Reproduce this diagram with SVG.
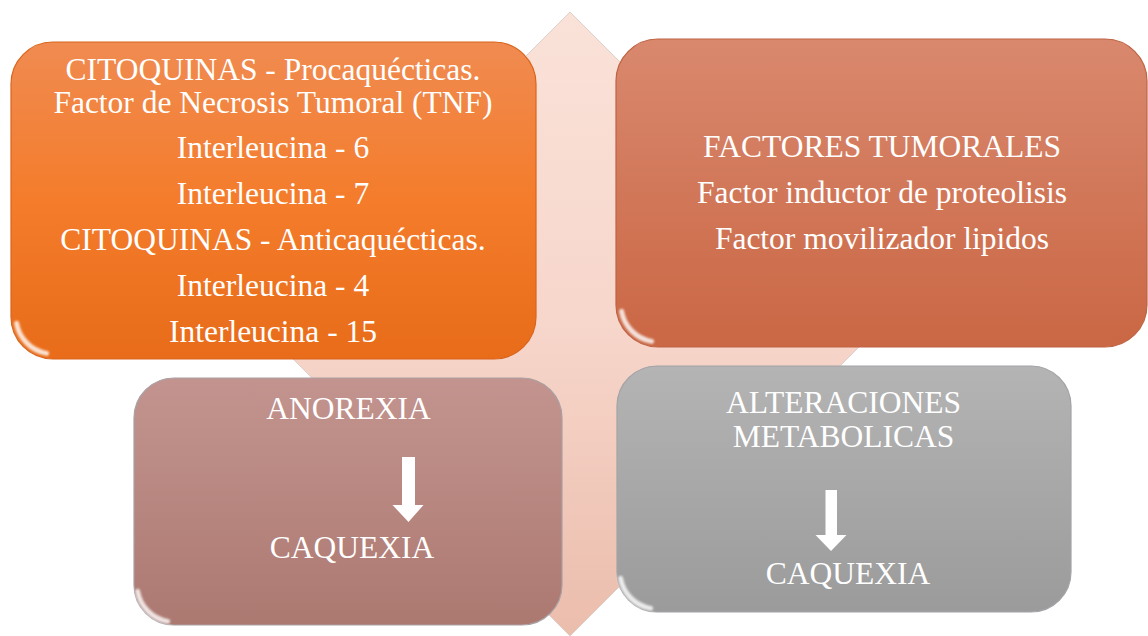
<svg xmlns="http://www.w3.org/2000/svg" width="1148" height="636" viewBox="0 0 1148 636">
  <defs>
    <linearGradient id="gDiamond" x1="0" y1="0" x2="0" y2="1">
      <stop offset="0" stop-color="#fae2d9"/>
      <stop offset="0.5" stop-color="#f7d6cb"/>
      <stop offset="1" stop-color="#ebbdac"/>
    </linearGradient>
    <linearGradient id="gOrange" x1="0" y1="0" x2="0" y2="1">
      <stop offset="0" stop-color="#f08b51"/>
      <stop offset="0.5" stop-color="#f47c2b"/>
      <stop offset="1" stop-color="#e86c19"/>
    </linearGradient>
    <linearGradient id="gRust" x1="0" y1="0" x2="0" y2="1">
      <stop offset="0" stop-color="#d9886e"/>
      <stop offset="1" stop-color="#ca6744"/>
    </linearGradient>
    <linearGradient id="gMauve" x1="0" y1="0" x2="0" y2="1">
      <stop offset="0" stop-color="#c3948f"/>
      <stop offset="1" stop-color="#ac7971"/>
    </linearGradient>
    <linearGradient id="gGray" x1="0" y1="0" x2="0" y2="1">
      <stop offset="0" stop-color="#b4b4b4"/>
      <stop offset="1" stop-color="#9b9b9b"/>
    </linearGradient>
    <linearGradient id="gShine" x1="0" y1="0" x2="1" y2="0">
      <stop offset="0" stop-color="#ffffff" stop-opacity="0"/>
      <stop offset="0.1" stop-color="#ffffff" stop-opacity="0.55"/>
      <stop offset="0.9" stop-color="#ffffff" stop-opacity="0.55"/>
      <stop offset="1" stop-color="#ffffff" stop-opacity="0"/>
    </linearGradient>
    <filter id="soft" x="-20%" y="-20%" width="140%" height="140%">
      <feGaussianBlur stdDeviation="1.3"/>
    </filter>
  </defs>
  <style>
    .box { stroke-width: 1.2; }
    .shine { fill: none; stroke: url(#gShine); stroke-width: 3; filter: url(#soft); }
    .corner { fill: none; stroke: #ffffff; stroke-opacity: 0.8; stroke-width: 5; stroke-linecap: round; filter: url(#soft); }
    .edge { fill: none; stroke: #ffffff; stroke-opacity: 0.35; stroke-width: 2; filter: url(#soft); }
    .t { font-family: "Liberation Serif", "Times New Roman", serif; font-size: 31.5px; fill: #ffffff; text-anchor: middle; }
    .arrow { fill: #ffffff; }
  </style>

  <rect width="1148" height="636" fill="#ffffff"/>

  <g id="background-diamond">
    <polygon points="570,12 882,324 570,636 258,324" fill="url(#gDiamond)" stroke="#ddd0cb" stroke-width="1"/>
  </g>

  <g id="node-citoquinas">
    <rect class="box" x="11" y="42" width="525" height="317" rx="42" ry="42" fill="url(#gOrange)" stroke="#d9651c"/>
    <path class="shine" d="M40,47 H507"/>
    <path class="edge" d="M531,80 V320"/>
    <path class="corner" d="M16.6,323.4 A37,37 0 0 0 46.6,353.4"/>
    <text class="t" x="273" y="80">CITOQUINAS - Procaquécticas.</text>
    <text class="t" x="273" y="113">Factor de Necrosis Tumoral  (TNF)</text>
    <text class="t" x="273" y="158">Interleucina - 6</text>
    <text class="t" x="273" y="204">Interleucina - 7</text>
    <text class="t" x="273" y="250">CITOQUINAS - Anticaquécticas.</text>
    <text class="t" x="273" y="296">Interleucina - 4</text>
    <text class="t" x="273" y="342">Interleucina - 15</text>
  </g>

  <g id="node-factores">
    <rect class="box" x="616" y="39" width="531" height="308" rx="42" ry="42" fill="url(#gRust)" stroke="#bf6343"/>
    <path class="shine" d="M645,44 H1118"/>
    <path class="edge" d="M1142,77 V310"/>
    <path class="corner" d="M621.6,311.4 A37,37 0 0 0 651.6,341.4"/>
    <text class="t" x="882" y="157">FACTORES TUMORALES</text>
    <text class="t" x="882" y="203">Factor inductor de proteolisis</text>
    <text class="t" x="882" y="249">Factor movilizador lipidos</text>
  </g>

  <g id="node-anorexia">
    <rect class="box" x="134" y="378" width="428" height="247" rx="40" ry="40" fill="url(#gMauve)" stroke="#a9a0a4"/>
    <path class="shine" d="M162,383 H534"/>
    <path class="edge" d="M557,415 V588"/>
    <path class="corner" d="M137.6,591.4 A37,37 0 0 0 167.6,621.4"/>
    <text class="t" x="348.5" y="419">ANOREXIA</text>
    <text class="t" x="352" y="558">CAQUEXIA</text>
  </g>

  <g id="node-alteraciones">
    <rect class="box" x="617" y="366" width="454" height="246" rx="40" ry="40" fill="url(#gGray)" stroke="#a3a3a8"/>
    <path class="shine" d="M645,371 H1043"/>
    <path class="edge" d="M1066,403 V575"/>
    <path class="corner" d="M620.6,578.4 A37,37 0 0 0 650.6,608.4"/>
    <text class="t" x="843.5" y="413">ALTERACIONES</text>
    <text class="t" x="843.5" y="447">METABOLICAS</text>
    <text class="t" x="848" y="584">CAQUEXIA</text>
  </g>

  <g id="connectors">
    <path class="arrow" d="M402,457 H415 V505 H423.5 L408.5,522 L392.5,505 H402 Z"/>
    <path class="arrow" d="M825.5,490 H837 V535 H846.5 L831,551 L815.5,535 H825.5 Z"/>
  </g>
</svg>
